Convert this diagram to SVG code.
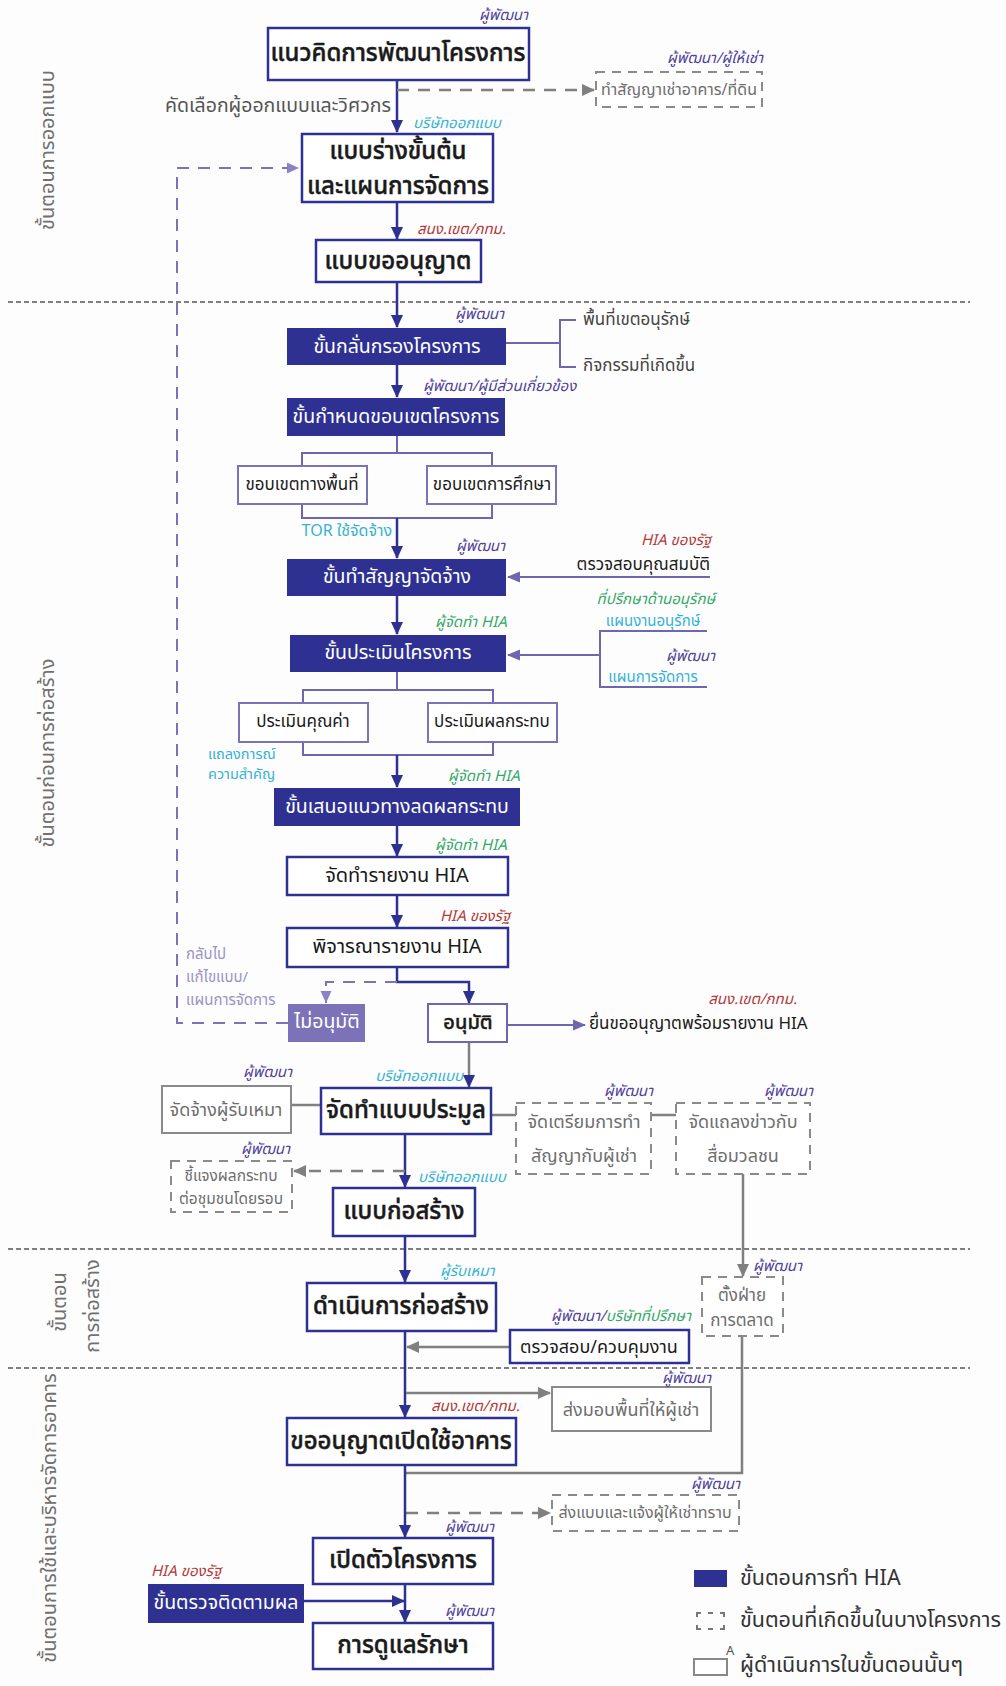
<svg xmlns="http://www.w3.org/2000/svg" width="1006" height="1686" viewBox="0 0 1006 1686">
<defs>
<style>
text{font-family:"Noto Sans Thai","Noto Sans","DejaVu Sans",sans-serif;}
.bg{fill:#fdfdfd}
.sep{stroke:#7f7f7f;stroke-width:2;stroke-dasharray:5 3;fill:none}
.side{fill:#707070;font-size:20px;text-anchor:middle;dominant-baseline:central}
.box{fill:#fff;stroke:#2e3192;stroke-width:2.5}
.dk{fill:#2e3192;stroke:none}
.sub{fill:#fff;stroke:#7b72b8;stroke-width:2}
.gbox{fill:#fff;stroke:#8a8a8a;stroke-width:2}
.dbox{fill:#fff;stroke:#8a8a8a;stroke-width:2;stroke-dasharray:9 7}
.t{fill:#1a1a1a;text-anchor:middle;dominant-baseline:central}
.big{font-size:24px;font-weight:500;stroke:#1a1a1a;stroke-width:0.45}
.mid{font-size:20px}
.w{fill:#fff;font-size:19.5px;text-anchor:middle;dominant-baseline:central}
.sm{font-size:17px}
.g{fill:#6e6e6e;text-anchor:middle;dominant-baseline:central}
.lab{font-size:15px;font-style:italic;dominant-baseline:central}
.pu{fill:#4f3f9a}.cy{fill:#36b3d2}.gr{fill:#33a868}.rd{fill:#b23a3a}
.nv{stroke:#2e3192;stroke-width:2.5;fill:none}
.pl{stroke:#6f66b0;stroke-width:2;fill:none}
.gl{stroke:#808080;stroke-width:2.5;fill:none}
.gd{stroke:#808080;stroke-width:2.5;fill:none;stroke-dasharray:12 9}
.pd{stroke:#7b72b8;stroke-width:2;fill:none;stroke-dasharray:12 9}
.note{fill:#444;font-size:17px;dominant-baseline:central}
</style>
<marker id="an" markerUnits="userSpaceOnUse" markerWidth="14" markerHeight="14" refX="12" refY="7" orient="auto"><path d="M0,1 L13,7 L0,13 z" fill="#2e3192"/></marker>
<marker id="ap" markerUnits="userSpaceOnUse" markerWidth="14" markerHeight="14" refX="12" refY="7" orient="auto"><path d="M0,1.5 L13,7 L0,12.5 z" fill="#6f66b0"/></marker>
<marker id="ag" markerUnits="userSpaceOnUse" markerWidth="14" markerHeight="14" refX="12" refY="7" orient="auto"><path d="M0,1 L13,7 L0,13 z" fill="#808080"/></marker>
<marker id="al" markerUnits="userSpaceOnUse" markerWidth="14" markerHeight="14" refX="12" refY="7" orient="auto"><path d="M0,1.5 L12,7 L0,12.5 z" fill="#8a82c4"/></marker>
</defs>
<rect class="bg" x="0" y="0" width="1006" height="1686"/>

<g id="separators">
<line class="sep" x1="8" y1="302" x2="970" y2="302"/>
<line class="sep" x1="8" y1="1249" x2="970" y2="1249"/>
<line class="sep" x1="8" y1="1368" x2="970" y2="1368"/>
</g>

<g id="phase-labels">
<text class="side" transform="translate(48,150) rotate(-90)" font-size="22">ขั้นตอนการออกแบบ</text>
<text class="side" transform="translate(48,753) rotate(-90)" font-size="22">ขั้นตอนก่อนการก่อสร้าง</text>
<text class="side" transform="translate(60,1302) rotate(-90)">ขั้นตอน</text>
<text class="side" transform="translate(93,1306) rotate(-90)" font-size="21">การก่อสร้าง</text>
<text class="side" transform="translate(50,1518) rotate(-90)">ขั้นตอนการใช้และบริหารจัดการอาคาร</text>
</g>

<g id="connectors">
<line class="nv" x1="397" y1="80" x2="397" y2="132" marker-end="url(#an)"/>
<line class="gd" x1="397" y1="90" x2="594" y2="90" marker-end="url(#ag)"/>
<path class="pd" d="M288 1023 H177 V168 H299" marker-end="url(#al)"/>
<line class="nv" x1="397" y1="202" x2="397" y2="239" marker-end="url(#an)"/>
<line class="nv" x1="397" y1="282" x2="397" y2="327" marker-end="url(#an)"/>
<path class="pl" d="M506 343 H560 M576 320 H560 V367 H576"/>
<line class="nv" x1="397" y1="365" x2="397" y2="397" marker-end="url(#an)"/>
<path class="pl" d="M397 436 V453 M302 466 V453 H492 V466 M302 504 V518 H492 V504"/>
<line class="nv" x1="397" y1="518" x2="397" y2="558" marker-end="url(#an)"/>
<line class="pl" x1="710" y1="577" x2="508" y2="577" marker-end="url(#ap)"/>
<line class="nv" x1="397" y1="596" x2="397" y2="634" marker-end="url(#an)"/>
<path class="pl" d="M707 631 H600 V687 H707"/>
<line class="pl" x1="600" y1="655" x2="508" y2="655" marker-end="url(#ap)"/>
<path class="pl" d="M397 672 V690 M303 703 V690 H493 V703 M303 742 V755 H493 V742"/>
<line class="nv" x1="397" y1="755" x2="397" y2="787" marker-end="url(#an)"/>
<line class="nv" x1="397" y1="826" x2="397" y2="856" marker-end="url(#an)"/>
<line class="nv" x1="397" y1="895" x2="397" y2="927" marker-end="url(#an)"/>
<path class="nv" d="M397 967 V982 H469 V1003" marker-end="url(#an)"/>
<path class="pd" d="M397 982 H326 V1003" marker-end="url(#al)"/>
<line class="pl" x1="507" y1="1025" x2="585" y2="1025" marker-end="url(#ap)"/>
<line class="gl" x1="469" y1="1042" x2="469" y2="1087" marker-end="url(#an)"/>
<line class="gl" x1="291" y1="1105" x2="321" y2="1105"/>
<line class="gl" x1="491" y1="1115" x2="516" y2="1115"/>
<line class="gl" x1="651" y1="1115" x2="676" y2="1115"/>
<line class="gl" x1="743" y1="1174" x2="743" y2="1276" marker-end="url(#ag)"/>
<line class="nv" x1="405" y1="1134" x2="405" y2="1187" marker-end="url(#an)"/>
<line class="gd" x1="405" y1="1171" x2="294" y2="1171" marker-end="url(#ag)"/>
<line class="nv" x1="405" y1="1236" x2="405" y2="1282" marker-end="url(#an)"/>
<line class="nv" x1="405" y1="1331" x2="405" y2="1417" marker-end="url(#an)"/>
<line class="gl" x1="510" y1="1347" x2="407" y2="1347" marker-end="url(#ag)"/>
<path class="gl" d="M742 1336 V1473 H406"/>
<line class="gl" x1="406" y1="1393" x2="550" y2="1393" marker-end="url(#ag)"/>
<line class="gd" x1="406" y1="1513" x2="550" y2="1513" marker-end="url(#ag)"/>
<line class="nv" x1="405" y1="1465" x2="405" y2="1537" marker-end="url(#an)"/>
<line class="nv" x1="405" y1="1584" x2="405" y2="1622" marker-end="url(#an)"/>
<line class="nv" x1="304" y1="1601" x2="404" y2="1601" marker-end="url(#an)"/>
</g>

<g id="n-concept">
<rect class="box" x="268" y="28" width="261" height="52"/>
<text class="t big" x="398" y="54">แนวคิดการพัฒนาโครงการ</text>
<text class="lab pu" x="528" y="15" text-anchor="end">ผู้พัฒนา</text>
</g>
<g id="n-lease">
<rect class="dbox" x="596" y="72" width="166" height="35"/>
<text class="g" x="679" y="90" font-size="16">ทำสัญญาเช่าอาคาร/ที่ดิน</text>
<text class="lab pu" x="763" y="58" text-anchor="end">ผู้พัฒนา/ผู้ให้เช่า</text>
</g>
<g id="n-select">
<text x="391" y="106" text-anchor="end" dominant-baseline="central" fill="#555" font-size="19.5">คัดเลือกผู้ออกแบบและวิศวกร</text>
<text class="lab cy" x="413" y="123">บริษัทออกแบบ</text>
</g>
<g id="n-draft">
<rect class="box" x="302" y="134" width="191" height="68"/>
<text class="t big" font-size="22.5" x="398" y="152">แบบร่างขั้นต้น</text>
<text class="t big" font-size="22.5" x="398" y="187">และแผนการจัดการ</text>
<text class="lab rd" x="417" y="229">สนง.เขต/กทม.</text>
</g>
<g id="n-permitdesign">
<rect class="box" x="316" y="240" width="165" height="42"/>
<text class="t big" x="398" y="262">แบบขออนุญาต</text>
<text class="lab pu" x="504" y="314" text-anchor="end">ผู้พัฒนา</text>
</g>
<g id="n-screen">
<rect class="dk" x="287" y="328" width="219" height="37"/>
<text class="w" x="397" y="347">ขั้นกลั่นกรองโครงการ</text>
<text class="note" x="583" y="320">พื้นที่เขตอนุรักษ์</text>
<text class="note" x="583" y="366">กิจกรรมที่เกิดขึ้น</text>
<text class="lab pu" x="423" y="386">ผู้พัฒนา/ผู้มีส่วนเกี่ยวข้อง</text>
</g>
<g id="n-scope">
<rect class="dk" x="287" y="398" width="218" height="38"/>
<text class="w" x="396" y="417">ขั้นกำหนดขอบเขตโครงการ</text>
</g>
<g id="n-scope-area">
<rect class="sub" x="238" y="466" width="129" height="38"/>
<text class="t sm" x="302" y="485">ขอบเขตทางพื้นที่</text>
</g>
<g id="n-scope-study">
<rect class="sub" x="427" y="466" width="129" height="38"/>
<text class="t sm" x="492" y="485">ขอบเขตการศึกษา</text>
<text class="cy" x="392" y="531" font-size="16" text-anchor="end" dominant-baseline="central">TOR ใช้จัดจ้าง</text>
<text class="lab pu" x="505" y="546" text-anchor="end">ผู้พัฒนา</text>
</g>
<g id="n-contract">
<rect class="dk" x="287" y="559" width="219" height="37"/>
<text class="w" x="397" y="577">ขั้นทำสัญญาจัดจ้าง</text>
<text class="lab rd" x="711" y="540" text-anchor="end">HIA ของรัฐ</text>
<text class="note" x="710" y="565" text-anchor="end" style="fill:#1a1a1a">ตรวจสอบคุณสมบัติ</text>
<text class="lab gr" x="435" y="622">ผู้จัดทำ HIA</text>
</g>
<g id="n-assess">
<rect class="dk" x="290" y="635" width="216" height="37"/>
<text class="w" x="398" y="653">ขั้นประเมินโครงการ</text>
<text class="lab gr" x="715" y="599" text-anchor="end">ที่ปรึกษาด้านอนุรักษ์</text>
<text class="cy" x="653" y="621" font-size="15" text-anchor="middle" dominant-baseline="central">แผนงานอนุรักษ์</text>
<text class="lab pu" x="715" y="656" text-anchor="end">ผู้พัฒนา</text>
<text class="cy" x="653" y="677" font-size="15" text-anchor="middle" dominant-baseline="central">แผนการจัดการ</text>
</g>
<g id="n-value">
<rect class="sub" x="239" y="703" width="129" height="39"/>
<text class="t sm" x="303" y="722">ประเมินคุณค่า</text>
<text class="cy" x="208" y="755" font-size="14.5" dominant-baseline="central">แถลงการณ์</text>
<text class="cy" x="208" y="775" font-size="14.5" dominant-baseline="central">ความสำคัญ</text>
</g>
<g id="n-impact">
<rect class="sub" x="428" y="703" width="129" height="39"/>
<text class="t sm" x="492" y="722">ประเมินผลกระทบ</text>
<text class="lab gr" x="448" y="776">ผู้จัดทำ HIA</text>
</g>
<g id="n-mitigate">
<rect class="dk" x="274" y="788" width="246" height="38"/>
<text class="w" x="397" y="807">ขั้นเสนอแนวทางลดผลกระทบ</text>
<text class="lab gr" x="435" y="845">ผู้จัดทำ HIA</text>
</g>
<g id="n-report">
<rect class="box" x="287" y="857" width="221" height="38"/>
<text class="t mid" x="397" y="876">จัดทำรายงาน HIA</text>
<text class="lab rd" x="440" y="916">HIA ของรัฐ</text>
</g>
<g id="n-review">
<rect class="box" x="287" y="928" width="221" height="39"/>
<text class="t mid" x="397" y="947">พิจารณารายงาน HIA</text>
</g>
<g id="n-reject">
<rect x="288" y="1004" width="77" height="38" fill="#7b72b8"/>
<text class="w" x="327" y="1022">ไม่อนุมัติ</text>
<text x="186" y="954" font-size="15" fill="#9a93c6" dominant-baseline="central">กลับไป</text>
<text x="186" y="977" font-size="15" fill="#9a93c6" dominant-baseline="central">แก้ไขแบบ/</text>
<text x="186" y="1000" font-size="15" fill="#9a93c6" dominant-baseline="central">แผนการจัดการ</text>
</g>
<g id="n-approve">
<rect class="sub" x="428" y="1004" width="79" height="38" style="stroke:#6f66b0"/>
<text class="t" x="468" y="1023" font-size="20" font-weight="500" stroke="#1a1a1a" stroke-width="0.4">อนุมัติ</text>
<text class="note" x="589" y="1024" font-size="16.5" style="fill:#1a1a1a">ยื่นขออนุญาตพร้อมรายงาน HIA</text>
<text class="lab rd" x="797" y="999" text-anchor="end">สนง.เขต/กทม.</text>
</g>
<g id="n-tender">
<rect class="box" x="321" y="1088" width="170" height="46"/>
<text class="t big" x="406" y="1111">จัดทำแบบประมูล</text>
<text class="lab cy" x="463" y="1076" text-anchor="end">บริษัทออกแบบ</text>
</g>
<g id="n-contractor">
<rect class="gbox" x="162" y="1086" width="129" height="47"/>
<text class="g" x="226" y="1110" font-size="18">จัดจ้างผู้รับเหมา</text>
<text class="lab pu" x="292" y="1072" text-anchor="end">ผู้พัฒนา</text>
</g>
<g id="n-tenantprep">
<rect class="dbox" x="516" y="1103" width="135" height="71"/>
<text class="g" x="584" y="1122" font-size="18">จัดเตรียมการทำ</text>
<text class="g" x="584" y="1156" font-size="18">สัญญากับผู้เช่า</text>
<text class="lab pu" x="653" y="1091" text-anchor="end">ผู้พัฒนา</text>
</g>
<g id="n-press">
<rect class="dbox" x="676" y="1103" width="134" height="71"/>
<text class="g" x="743" y="1122" font-size="18">จัดแถลงข่าวกับ</text>
<text class="g" x="743" y="1156" font-size="18">สื่อมวลชน</text>
<text class="lab pu" x="813" y="1091" text-anchor="end">ผู้พัฒนา</text>
</g>
<g id="n-explain">
<rect class="dbox" x="171" y="1161" width="121" height="51"/>
<text class="g" x="231" y="1176" font-size="15.5">ชี้แจงผลกระทบ</text>
<text class="g" x="231" y="1199" font-size="15.5">ต่อชุมชนโดยรอบ</text>
<text class="lab pu" x="290" y="1149" text-anchor="end">ผู้พัฒนา</text>
</g>
<g id="n-construct-design">
<rect class="box" x="333" y="1188" width="142" height="48"/>
<text class="t big" x="404" y="1212">แบบก่อสร้าง</text>
<text class="lab cy" x="418" y="1177">บริษัทออกแบบ</text>
</g>
<g id="n-construct">
<rect class="box" x="307" y="1283" width="189" height="48"/>
<text class="t big" x="401" y="1307" font-size="23.5">ดำเนินการก่อสร้าง</text>
<text class="lab cy" x="440" y="1271">ผู้รับเหมา</text>
</g>
<g id="n-marketing">
<rect class="dbox" x="702" y="1277" width="81" height="59"/>
<text class="g" x="742" y="1296" font-size="17">ตั้งฝ่าย</text>
<text class="g" x="742" y="1321" font-size="17">การตลาด</text>
<text class="lab pu" x="753" y="1266">ผู้พัฒนา</text>
</g>
<g id="n-supervise">
<rect class="box" x="510" y="1330" width="179" height="33"/>
<text class="t" x="599" y="1347" font-size="18">ตรวจสอบ/ควบคุมงาน</text>
<text class="lab pu" x="691" y="1316" text-anchor="end">ผู้พัฒนา/<tspan class="gr">บริษัทที่ปรึกษา</tspan></text>
</g>
<g id="n-handover">
<rect class="gbox" x="552" y="1387" width="159" height="44"/>
<text class="g" x="631" y="1410" font-size="18">ส่งมอบพื้นที่ให้ผู้เช่า</text>
<text class="lab pu" x="711" y="1378" text-anchor="end">ผู้พัฒนา</text>
</g>
<g id="n-occupancy">
<rect class="box" x="287" y="1418" width="229" height="47"/>
<text class="t big" x="401" y="1442">ขออนุญาตเปิดใช้อาคาร</text>
<text class="lab rd" x="431" y="1406">สนง.เขต/กทม.</text>
</g>
<g id="n-notify">
<rect class="dbox" x="552" y="1495" width="187" height="36"/>
<text class="g" x="645" y="1513" font-size="16">ส่งแบบและแจ้งผู้ให้เช่าทราบ</text>
<text class="lab pu" x="740" y="1484" text-anchor="end">ผู้พัฒนา</text>
</g>
<g id="n-launch">
<rect class="box" x="313" y="1538" width="180" height="46"/>
<text class="t big" x="403" y="1561">เปิดตัวโครงการ</text>
<text class="lab pu" x="445" y="1527">ผู้พัฒนา</text>
</g>
<g id="n-monitor">
<rect class="dk" x="148" y="1584" width="156" height="39"/>
<text class="w" x="226" y="1603">ขั้นตรวจติดตามผล</text>
<text class="lab rd" x="151" y="1571">HIA ของรัฐ</text>
</g>
<g id="n-maintain">
<rect class="box" x="313" y="1623" width="180" height="46"/>
<text class="t big" x="403" y="1646">การดูแลรักษา</text>
<text class="lab pu" x="445" y="1611">ผู้พัฒนา</text>
</g>

<g id="legend">
<rect x="694" y="1570" width="33" height="17" fill="#2e3192"/>
<text x="740" y="1578" font-size="21.5" fill="#333" dominant-baseline="central">ขั้นตอนการทำ HIA</text>
<path d="M697 1617 V1613 H701 M708 1613 H713 M720 1613 H724 V1617 M697 1625 V1629 H701 M708 1629 H713 M720 1629 H724 V1625" stroke="#777" stroke-width="2" fill="none"/>
<text x="740" y="1620" font-size="21.5" fill="#333" dominant-baseline="central">ขั้นตอนที่เกิดขึ้นในบางโครงการ</text>
<rect x="694" y="1659" width="33" height="16" fill="#fff" stroke="#888" stroke-width="2"/>
<text x="726" y="1651" font-size="13" fill="#555" dominant-baseline="central">A</text>
<text x="740" y="1665" font-size="21.5" fill="#333" dominant-baseline="central">ผู้ดำเนินการในขั้นตอนนั้นๆ</text>
</g>
</svg>
